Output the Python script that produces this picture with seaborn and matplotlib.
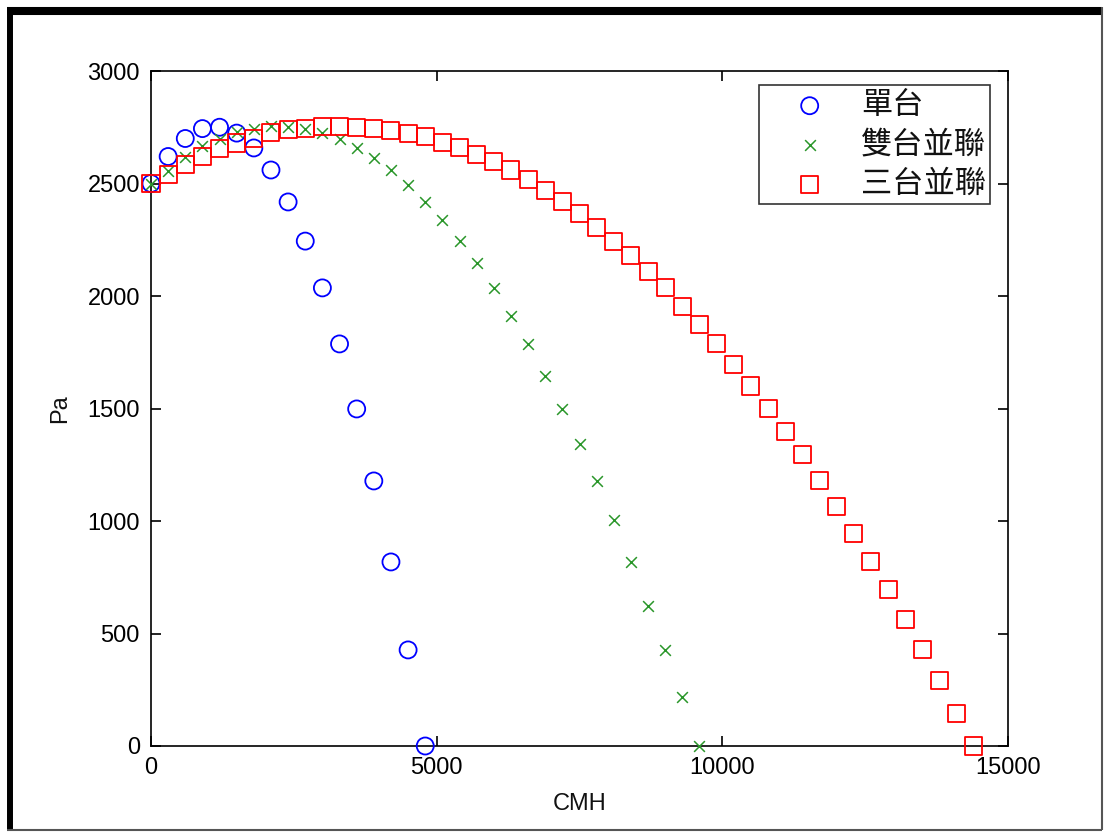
import matplotlib
matplotlib.use("Agg")
import matplotlib.pyplot as plt
import seaborn as sns
from matplotlib.lines import Line2D

# single fan
single_cmh = [0, 300, 600, 900, 1200, 1500, 1800, 2100, 2400, 2700, 3000,
              3300, 3600, 3900, 4200, 4500, 4800]
single_pa = [2500, 2620, 2700, 2744, 2750, 2724, 2658, 2560, 2418, 2244, 2036,
             1787, 1498, 1178, 818, 427, 0]

# two fans in parallel
double_cmh = [0, 300, 600, 900, 1200, 1500, 1800, 2100, 2400, 2700, 3000,
              3300, 3600, 3900, 4200, 4500, 4800, 5100, 5400, 5700, 6000,
              6300, 6600, 6900, 7200, 7500, 7800, 8100, 8400, 8700, 9000,
              9300, 9600]
double_pa = [2500, 2555, 2620, 2667, 2700, 2730, 2744, 2754, 2750, 2742, 2724,
             2698, 2658, 2613, 2560, 2494, 2418, 2338, 2244, 2145, 2036,
             1913, 1787, 1645, 1498, 1343, 1178, 1004, 818, 624, 427,
             216, 0]

# three fans in parallel
triple_cmh = [0, 300, 600, 900, 1200, 1500, 1800, 2100, 2400, 2700, 3000,
              3300, 3600, 3900, 4200, 4500, 4800, 5100, 5400, 5700, 6000,
              6300, 6600, 6900, 7200, 7500, 7800, 8100, 8400, 8700, 9000,
              9300, 9600, 9900, 10200, 10500, 10800, 11100, 11400, 11700, 12000,
              12300, 12600, 12900, 13200, 13500, 13800, 14100, 14400]
triple_pa = [2500, 2542, 2585, 2620, 2656, 2680, 2700, 2725, 2740, 2744, 2752,
             2754, 2750, 2744, 2735, 2724, 2708, 2684, 2658, 2630, 2596,
             2560, 2516, 2470, 2418, 2366, 2304, 2244, 2180, 2110, 2036,
             1955, 1874, 1787, 1696, 1600, 1498, 1398, 1294, 1178, 1066,
             944, 818, 696, 564, 427, 292, 146, 0]

labels = ["單台", "雙台並聯", "三台並聯"]
x_ticks = [0, 5000, 10000, 15000]
y_ticks = [0, 500, 1000, 1500, 2000, 2500, 3000]


def main():
    sns.set_theme(style="ticks")
    plt.rcParams["font.family"] = ["Liberation Sans", "Noto Sans CJK TC", "DejaVu Sans"]

    fig = plt.figure(figsize=(11.07, 8.32), dpi=100)
    fig.patch.set_facecolor("white")
    ax = fig.add_axes([151 / 1107, 1 - 746 / 832, 857 / 1107, 675 / 832])
    ax.set_facecolor("white")

    sns.scatterplot(x=single_cmh, y=single_pa, ax=ax, marker="o", s=150,
                    facecolor="none", edgecolor="#0000ff", linewidth=1.3,
                    label=labels[0], clip_on=False, zorder=3)
    sns.scatterplot(x=double_cmh, y=double_pa, ax=ax, marker="x", s=60,
                    color="#2a962a", linewidth=1.1,
                    label=labels[1], clip_on=False, zorder=3)
    sns.scatterplot(x=triple_cmh, y=triple_pa, ax=ax, marker="s", s=150,
                    facecolor="none", edgecolor="#ff0000", linewidth=1.3,
                    label=labels[2], clip_on=False, zorder=3)

    ax.set_xlim(0, 15000)
    ax.set_ylim(0, 3000)
    ax.set_xticks(x_ticks)
    ax.set_yticks(y_ticks)
    ax.tick_params(direction="in", length=7, width=1.2, colors="black",
                   labelsize=17, pad=8, top=True, right=True)
    for side in ax.spines.values():
        side.set_visible(True)
        side.set_color("black")
        side.set_linewidth(1.2)
    ax.set_xlabel("CMH", fontsize=17, labelpad=10, color="#111111")
    ax.set_ylabel("Pa", fontsize=17, labelpad=12, color="#111111")

    leg = ax.legend(loc="upper right", bbox_to_anchor=(0.979, 0.979),
                    borderaxespad=0, frameon=True, fancybox=False,
                    prop={"family": ["Noto Sans CJK TC"], "size": 22.5},
                    handletextpad=0.15, labelspacing=0.24, borderpad=0.12,
                    handlelength=3.0)
    leg.get_frame().set_edgecolor("black")
    leg.get_frame().set_linewidth(1.2)
    for t in leg.get_texts():
        t.set_color("#111111")

    # window frame around the figure
    fig.add_artist(Line2D([7 / 1107, 1102 / 1107], [1 - 11 / 832, 1 - 11 / 832],
                          transform=fig.transFigure, color="black", linewidth=5.8,
                          solid_capstyle="butt"))
    fig.add_artist(Line2D([10 / 1107, 10 / 1107], [1 - 7 / 832, 1 - 830 / 832],
                          transform=fig.transFigure, color="black", linewidth=4.3,
                          solid_capstyle="butt"))
    fig.add_artist(Line2D([1102 / 1107, 1102 / 1107], [1 - 7 / 832, 1 - 830 / 832],
                          transform=fig.transFigure, color="#555555", linewidth=1.5,
                          solid_capstyle="butt"))
    fig.add_artist(Line2D([7 / 1107, 1102 / 1107], [1 - 830 / 832, 1 - 830 / 832],
                          transform=fig.transFigure, color="#555555", linewidth=1.5,
                          solid_capstyle="butt"))

    fig.savefig("out.png", dpi=100)
    plt.close(fig)


if __name__ == "__main__":
    main()
